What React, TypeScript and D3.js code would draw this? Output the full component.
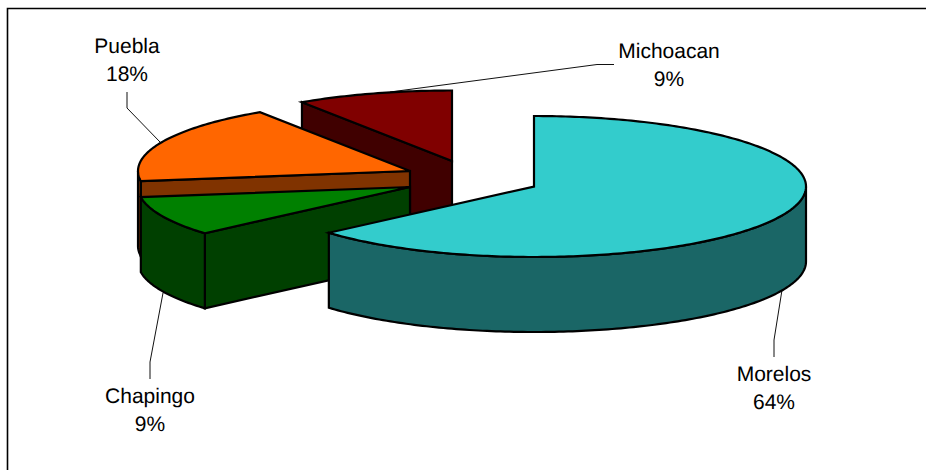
import React from "react";
import * as d3 from "d3";

// Drawing order runs back to front, so nearer wedges cover farther ones.
const regions = ["Michoacan", "Puebla", "Chapingo", "Morelos"];
const shares = [9.3, 18.0, 9.1, 63.6];
const percentLabels = ["9%", "18%", "9%", "64%"];
const topColors = ["#800000", "#FF6600", "#008000", "#33CCCC"];
const sideColors = ["#400000", "#803300", "#004000", "#1A6666"];

// Wedge apex on screen for each region once exploded.
const apexes: [number, number][] = [
  [452, 161],
  [410, 171],
  [410, 187],
  [534, 186.5],
];
const labelAnchors: [number, number][] = [
  [669, 58],
  [127, 53],
  [150, 403],
  [774, 381],
];
const leaderLines: [number, number][][] = [
  [[390, 92], [597, 64.5], [614, 64.5]],
  [[127, 92], [127, 108], [160, 142]],
  [[163, 293], [150, 362], [150, 379]],
  [[782, 290], [774, 340], [774, 357]],
];

const W = 926;
const H = 470;
const RX = 272;
const RY = 70.5;
const DEPTH = 75;
const LINE_GAP = 27.5;

// Morelos starts at twelve o'clock and runs clockwise; the others follow it.
const startingAtTop = [3, 2, 1, 0];
const pieAngles = d3
  .pie<number>()
  .sort(null)(startingAtTop.map((i) => shares[i]));
const angleOf = (i: number) => pieAngles[startingAtTop.indexOf(i)];

type Pt = [number, number];
const rimPoint = (apex: Pt, angle: number, drop = 0): Pt => [
  apex[0] + RX * Math.sin(angle),
  apex[1] - RY * Math.cos(angle) + drop,
];

const arcPoints = (apex: Pt, a0: number, a1: number, drop = 0): Pt[] => {
  const steps = Math.max(2, Math.ceil(Math.abs(a1 - a0) * 60));
  return d3.range(steps + 1).map((k) => rimPoint(apex, a0 + ((a1 - a0) * k) / steps, drop));
};

const poly = d3.line<Pt>();
const closed = (pts: Pt[]) => poly(pts) + "Z";

// Outer wall: only the part of the rim on the viewer's side of the ellipse is seen.
const outerWall = (apex: Pt, a0: number, a1: number) => {
  const lo = Math.max(a0, Math.PI / 2);
  const hi = Math.min(a1, (3 * Math.PI) / 2);
  if (hi <= lo) return null;
  return closed([...arcPoints(apex, lo, hi), ...arcPoints(apex, hi, lo, DEPTH)]);
};

// Flat cut through the apex, extruded downward.
const radialWall = (apex: Pt, angle: number) =>
  closed([apex, rimPoint(apex, angle), rimPoint(apex, angle, DEPTH), [apex[0], apex[1] + DEPTH]]);

const topFace = (apex: Pt, a0: number, a1: number) => closed([apex, ...arcPoints(apex, a0, a1)]);

const labelFont = "'Liberation Sans', Arial, Helvetica, sans-serif";

export default function App() {
  const leader = d3.line<Pt>();
  return (
    <svg
      width={W}
      height={H}
      viewBox={`0 0 ${W} ${H}`}
      style={{ position: "fixed", left: 0, top: 0, background: "#fff", display: "block" }}
    >
      <path d={`M7.5,${H}V8.5H${W}`} fill="none" stroke="#000" strokeWidth={1.6} />
      {leaderLines.map((pts, i) => (
        <path key={regions[i]} d={leader(pts) ?? ""} fill="none" stroke="#111" strokeWidth={1} />
      ))}
      {regions.map((name, i) => {
        const apex = apexes[i];
        const a = angleOf(i);
        // The first wedge's start cut faces away; every other start cut faces the viewer.
        const showCut = a.index !== 0;
        const wall = outerWall(apex, a.startAngle, a.endAngle);
        const stroke = { stroke: "#000", strokeWidth: 2.2, strokeLinejoin: "miter" as const, strokeMiterlimit: 4 };
        return (
          <g key={name}>
            {showCut && <path d={radialWall(apex, a.startAngle)} fill={sideColors[i]} {...stroke} />}
            {wall && <path d={wall} fill={sideColors[i]} {...stroke} />}
            <path d={topFace(apex, a.startAngle, a.endAngle)} fill={topColors[i]} {...stroke} />
          </g>
        );
      })}
      {regions.map((name, i) => (
        <text
          key={name}
          x={labelAnchors[i][0]}
          y={labelAnchors[i][1]}
          textAnchor="middle"
          fontFamily={labelFont}
          fontSize={21}
          textRendering="geometricPrecision"
          fill="#000"
        >
          <tspan x={labelAnchors[i][0]}>{name}</tspan>
          <tspan x={labelAnchors[i][0]} dy={LINE_GAP}>
            {percentLabels[i]}
          </tspan>
        </text>
      ))}
    </svg>
  );
}
